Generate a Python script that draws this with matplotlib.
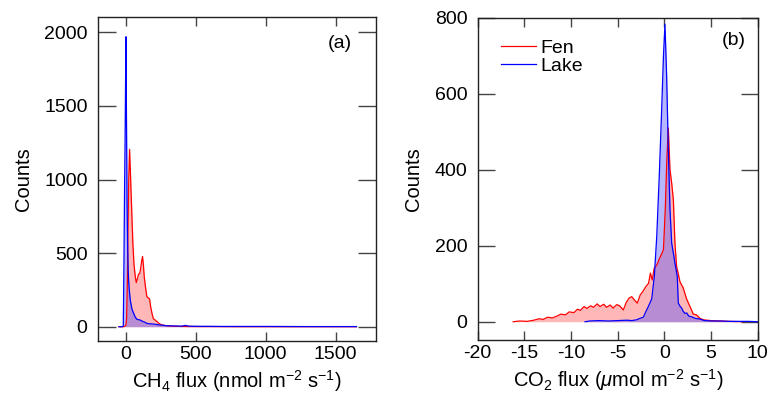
import matplotlib
matplotlib.use("Agg")
import matplotlib.pyplot as plt

plt.rcParams["font.family"] = ["Liberation Sans", "DejaVu Sans"]
plt.rcParams["mathtext.fontset"] = "custom"
plt.rcParams["mathtext.rm"] = "Liberation Sans"
plt.rcParams["mathtext.it"] = "Liberation Sans:italic"
plt.rcParams["axes.unicode_minus"] = False

FEN_CLR = "#ff0000"
LAKE_CLR = "#0000ff"

# ── CH4 flux histogram (nmol m-2 s-1) ────────────────────────────────────────
ch4_fen_x = [-50, -20, -10, 0, 5, 10, 15, 20, 26, 32, 38, 43, 50, 58, 67, 74,
             82, 90, 98, 106, 113, 119, 125, 131, 140, 150, 160, 169, 178, 186,
             196, 210, 222, 240, 258, 280, 300, 350, 400, 500, 600, 800, 1000,
             1200, 1400, 1650]
ch4_fen = [0, 0, 2, 10, 60, 300, 650, 1000, 1205, 1050, 880, 747, 560, 420,
           340, 300, 325, 357, 360, 400, 450, 476, 420, 340, 270, 204, 195, 190,
           130, 93, 55, 45, 35, 20, 12, 8, 6, 3, 2, 1, 1, 0, 0, 0, 0, 0]

ch4_lake_x = [-50, -25, -19, -14, -10, -6, -3, 0, 4, 8, 12, 16, 19, 25, 31, 37,
              43, 55, 67, 79, 91, 103, 115, 127, 140, 150, 170, 198, 240, 293,
              350, 400, 424, 450, 500, 700, 1000, 1300, 1650]
ch4_lake = [0, 0, 5, 450, 920, 1270, 1620, 1970, 1400, 850, 560, 390, 317, 240,
            181, 150, 120, 91, 65, 50, 48, 45, 38, 34, 28, 23, 20, 18, 12, 7, 5,
            4, 9, 4, 3, 2, 2, 1, 1]

# ── CO2 flux histogram (umol m-2 s-1) ────────────────────────────────────────
co2_fen_x = [-16.2, -15.5, -14.7, -14.0, -13.4, -13.0, -12.5, -12.0, -11.5,
             -11.1, -10.6, -10.2, -9.7, -9.3, -9.0, -8.6, -8.3, -7.9, -7.6,
             -7.2, -6.9, -6.5, -6.2, -5.8, -5.5, -5.1, -4.8, -4.4, -4.1, -3.8,
             -3.5, -3.2, -2.9, -2.6, -2.3, -2.0, -1.7, -1.5, -1.3, -1.1, -0.8,
             -0.55, -0.3, -0.1, 0.1, 0.25, 0.42, 0.6, 0.78, 0.96, 1.13, 1.31,
             1.5, 1.67, 2.0, 2.38, 2.74, 3.1, 3.45, 3.8, 4.2, 5.0, 6.0, 7.0,
             8.5]
co2_fen = [0, 2, 1, 4, 8, 6, 12, 10, 15, 20, 18, 26, 24, 33, 30, 40, 35, 42,
           38, 47, 40, 46, 38, 44, 36, 45, 42, 31, 50, 62, 66, 57, 49, 70, 80,
           92, 101, 128, 110, 140, 150, 165, 178, 190, 300, 420, 510, 400, 365,
           321, 207, 145, 125, 105, 90, 60, 40, 20, 18, 9, 5, 3, 2, 1, 0]

co2_lake_x = [-8.5, -8.0, -7.0, -6.0, -5.0, -4.0, -3.5, -3.0, -2.6, -2.26,
              -2.0, -1.72, -1.36, -1.08, -0.82, -0.55, -0.29, -0.1, 0.06, 0.24,
              0.42, 0.6, 0.78, 1.0, 1.13, 1.38, 1.49, 1.7, 1.85, 2.0, 2.2, 2.4,
              2.6, 2.92, 3.3, 3.8, 4.3, 5.0, 6.0, 7.0, 8.0, 9.0, 10.0]
co2_lake = [0, 2, 3, 2, 3, 4, 3, 5, 9, 12, 26, 40, 60, 119, 224, 383, 559, 700,
            783, 647, 453, 295, 207, 175, 154, 119, 49, 40, 36, 28, 22, 23, 15,
            13, 9, 7, 3, 2, 2, 1, 1, 1, 0]


def style_axis(ax, ylen, xlen):
    ax.tick_params(axis="y", direction="in", length=ylen, width=1.0,
                   color="#444444", left=True, right=True, labelsize=14, pad=7.5)
    ax.tick_params(axis="x", direction="in", length=xlen, width=1.0,
                   color="#444444", top=True, bottom=True, labelsize=14, pad=3.5)
    for sp in ax.spines.values():
        sp.set_linewidth(1.0)
        sp.set_color("#222222")


def draw_hist(ax, x, y, clr, fill_rgb):
    ax.fill_between(x, y, 0, color=fill_rgb, alpha=0.4, linewidth=0)
    ax.plot(x, y, color=clr, linewidth=0.9)


fig = plt.figure(figsize=(7.71, 3.97), dpi=100)

# ── Panel (a) — CH4 ──────────────────────────────────────────────────────────
ax1 = fig.add_axes([0.1271, 0.1418, 0.3606, 0.8161])
draw_hist(ax1, ch4_fen_x, ch4_fen, FEN_CLR, (1.0, 0.3, 0.3))
draw_hist(ax1, ch4_lake_x, ch4_lake, LAKE_CLR, (0.3, 0.3, 1.0))
ax1.set_xlim(-200, 1790)
ax1.set_ylim(-95, 2106)
ax1.set_xticks([0, 500, 1000, 1500])
ax1.set_yticks([0, 500, 1000, 1500, 2000])
ax1.set_xlabel(r"CH$_4$ flux (nmol m$^{-2}$ s$^{-1}$)", fontsize=14.5, labelpad=4)
ax1.set_ylabel("Counts", fontsize=14.5, labelpad=8)
ax1.text(0.87, 0.916, "(a)", transform=ax1.transAxes, fontsize=14,
         ha="center", va="center")
style_axis(ax1, 13, 6.5)

# ── Panel (b) — CO2 ──────────────────────────────────────────────────────────
ax2 = fig.add_axes([0.6196, 0.1436, 0.3632, 0.8118])
draw_hist(ax2, co2_fen_x, co2_fen, FEN_CLR, (1.0, 0.3, 0.3))
draw_hist(ax2, co2_lake_x, co2_lake, LAKE_CLR, (0.3, 0.3, 1.0))
ax2.plot([], [], color=FEN_CLR, linewidth=0.9, label="Fen")
ax2.plot([], [], color=LAKE_CLR, linewidth=0.9, label="Lake")
ax2.set_xlim(-20, 10)
ax2.set_ylim(-48, 800)
ax2.set_xticks([-20, -15, -10, -5, 0, 5, 10])
ax2.set_yticks([0, 200, 400, 600, 800])
ax2.set_xlabel(r"CO$_2$ flux ($\mu$mol m$^{-2}$ s$^{-1}$)", fontsize=14.5, labelpad=4)
ax2.set_ylabel("Counts", fontsize=14.5, labelpad=8)
ax2.text(0.916, 0.928, "(b)", transform=ax2.transAxes, fontsize=14,
         ha="center", va="center")
handles, labels = ax2.get_legend_handles_labels()
ax2.legend(handles[-2:], labels[-2:], loc="upper left",
           bbox_to_anchor=(0.083, 0.934), frameon=False, fontsize=14,
           handlelength=1.8, handletextpad=0.25, borderpad=0,
           borderaxespad=0, labelspacing=0.05)
style_axis(ax2, 12, 6.5)

fig.savefig("out.png", dpi=100)
